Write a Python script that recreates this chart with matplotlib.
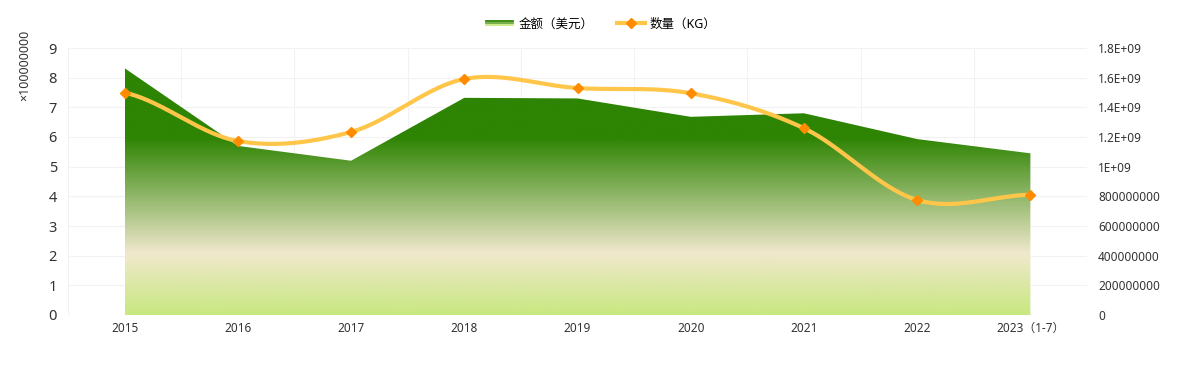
import numpy as np
import matplotlib.pyplot as plt
from matplotlib.colors import LinearSegmentedColormap
from matplotlib.lines import Line2D
from matplotlib.legend_handler import HandlerBase

plt.rcParams['font.family'] = ['Noto Sans', 'Noto Sans CJK SC', 'DejaVu Sans']

years = ['2015', '2016', '2017', '2018', '2019', '2020', '2021', '2022', '2023（1-7）']
amount = [8.32, 5.70, 5.20, 7.32, 7.30, 6.68, 6.80, 5.93, 5.45]          # x1e8 USD
quantity = [1.499e9, 1.173e9, 1.234e9, 1.591e9, 1.530e9, 1.495e9, 1.259e9, 0.775e9, 0.811e9]
right_ticks = ['0', '200000000', '400000000', '600000000', '800000000',
               '1E+09', '1.2E+09', '1.4E+09', '1.6E+09', '1.8E+09']


def smooth(xs, ys, n=40):
    xs = np.asarray(xs, float)
    ys = np.asarray(ys, float)
    m = len(xs)
    t = np.zeros(m)
    for i in range(m):
        if i == 0:
            t[i] = (ys[1] - ys[0]) * 0.5
        elif i == m - 1:
            t[i] = (ys[-1] - ys[-2]) * 0.5
        else:
            t[i] = (ys[i + 1] - ys[i - 1]) / 2
    ox, oy = [], []
    for i in range(m - 1):
        s = np.linspace(0, 1, n)
        h00 = 2 * s**3 - 3 * s**2 + 1
        h10 = s**3 - 2 * s**2 + s
        h01 = -2 * s**3 + 3 * s**2
        h11 = s**3 - s**2
        ox.extend(xs[i] + s * (xs[i + 1] - xs[i]))
        oy.extend(h00 * ys[i] + h10 * t[i] + h01 * ys[i + 1] + h11 * t[i + 1])
    return np.array(ox), np.array(oy)


fig = plt.figure(figsize=(11.78, 3.65), dpi=100)
ax = fig.add_axes([68 / 1178, 1 - 315 / 365, (1087 - 68) / 1178, (315 - 48) / 365])
x = np.arange(len(years))

ax.set_xlim(-0.5, len(years) - 0.5)
ax.set_ylim(0, 9)
ax.set_yticks(range(10))
ax.set_xticks(x)
ax.set_xticklabels(years, fontsize=8.5, color='#333333')
ax.set_xticks(np.arange(-0.5, len(years)), minor=True)
ax.tick_params(axis='x', which='both', length=0, pad=5)
ax.tick_params(axis='y', length=0, labelsize=10.5, labelcolor='#333333', pad=8)
ax.grid(True, which='minor', axis='x', color='#f2f2f2', lw=0.8)
ax.grid(True, which='major', axis='y', color='#f2f2f2', lw=0.8)
for sp in ax.spines.values():
    sp.set_visible(False)
ax.set_axisbelow(True)

# gradient area
cmap = LinearSegmentedColormap.from_list('g', [
    (0.0, '#c8e880'), (0.25, '#f0e8cc'), (0.72, '#2e8403'), (1.0, '#2e8403')])
poly = ax.fill_between(x, 0, amount, color='none', lw=0)
top = max(amount)
grad = np.linspace(0, 1, 256).reshape(-1, 1)
im = ax.imshow(grad, cmap=cmap, origin='lower', aspect='auto',
               extent=[x[0], x[-1], 0, top], zorder=1)
im.set_clip_path(poly.get_paths()[0], transform=ax.transData)
ax.set_xlim(-0.5, len(years) - 0.5)
ax.set_ylim(0, 9)

ax.text(-0.042, 0.935, '×100000000', transform=ax.transAxes, rotation=90,
        ha='center', va='center', fontsize=9, color='#333333')

ax2 = ax.twinx()
ax2.set_ylim(0, 1.8e9)
ax2.set_yticks(np.arange(0, 1.81e9, 2e8))
ax2.set_yticklabels(right_ticks)
ax2.tick_params(axis='y', length=0, labelsize=8.5, labelcolor='#333333', pad=8)
for sp in ax2.spines.values():
    sp.set_visible(False)
sx, sy = smooth(x, quantity)
ax2.plot(sx, sy, color='#ffc64a', lw=3, solid_capstyle='round', zorder=3)
ax2.plot(x, quantity, ls='none', marker='D', ms=5, color='#ff8c00', zorder=4)


class GradHandler(HandlerBase):
    def create_artists(self, legend, orig, xd, yd, w, h, fontsize, trans):
        arts = []
        cols = ['#2e8403', '#6aa838', '#c8e880']
        for i, c in enumerate(cols):
            yy = yd + h / 2 + 1.2 - i * 1.2
            arts.append(Line2D([xd, xd + w], [yy, yy], color=c, lw=1.3, transform=trans))
        return arts


h1 = Line2D([], [], color='#2e8403')
h2 = Line2D([], [], color='#ffc64a', lw=3, marker='D', ms=5, mfc='#ff8c00', mec='#ff8c00')
fig.legend([h1, h2], ['金额（美元）', '数量（KG）'], loc='center', bbox_to_anchor=(601 / 1178, 1 - 24 / 365),
           ncol=2, frameon=False, fontsize=9, handlelength=2.2, columnspacing=1.9,
           handletextpad=0.4, handler_map={h1: GradHandler()})

fig.savefig('out.png', dpi=100)
